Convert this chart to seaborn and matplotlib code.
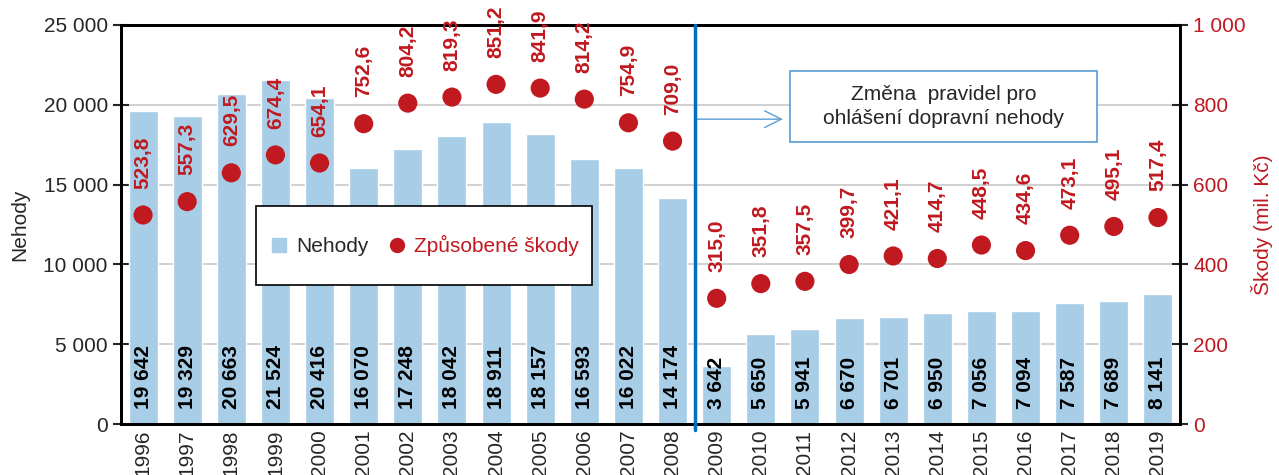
import numpy as np
import pandas as pd
import matplotlib
matplotlib.use("Agg")
import matplotlib.pyplot as plt
from matplotlib.ticker import FuncFormatter, FixedLocator
from matplotlib.lines import Line2D
from matplotlib.patches import Rectangle
import seaborn as sns

# Data
years = [str(y) for y in range(1996, 2020)]
nehody = [19642, 19329, 20663, 21524, 20416, 16070, 17248, 18042, 18911, 18157,
          16593, 16022, 14174, 3642, 5650, 5941, 6670, 6701, 6950, 7056,
          7094, 7587, 7689, 8141]
skody = [523.8, 557.3, 629.5, 674.4, 654.1, 752.6, 804.2, 819.3, 851.2, 841.9,
         814.2, 754.9, 709.0, 315.0, 351.8, 357.5, 399.7, 421.1, 414.7, 448.5,
         434.6, 473.1, 495.1, 517.4]

BAR_COLOR = "#A7CDE7"
RED = "#C0191F"
LINE_BLUE = "#0070C0"
BOX_BLUE = "#5B9BD5"

sns.set_style("white")
plt.rcParams["font.family"] = ["Liberation Sans", "DejaVu Sans"]
plt.rcParams["font.size"] = 15

df = pd.DataFrame({"rok": years, "nehody": nehody, "skody": skody})


def space_thousands(v, pos=None):
    return f"{int(round(v)):,}".replace(",", " ")


fig = plt.figure(figsize=(12.79, 4.75), dpi=100)
ax = fig.add_axes([121 / 1279, 51 / 475, 1059 / 1279, 399 / 475])

sns.barplot(data=df, x="rok", y="nehody", color=BAR_COLOR, width=0.66,
            saturation=1, ax=ax, zorder=2)
ax.set_xlim(-0.5, len(years) - 0.5)
ax.set_ylim(0, 25000)
ax.set_yticks(np.arange(0, 25001, 5000))
ax.yaxis.set_major_formatter(FuncFormatter(space_thousands))
ax.grid(axis="y", color="#C8C8C8", lw=1.2, zorder=0)
ax.set_axisbelow(True)
ax.set_xlabel("")
ax.set_ylabel("Nehody", fontsize=15, labelpad=10)
ax.tick_params(axis="x", which="major", length=0, labelrotation=90, pad=4,
               labelsize=15)
ax.xaxis.set_minor_locator(FixedLocator(np.arange(0.5, len(years) - 1, 1)))
ax.tick_params(axis="x", which="minor", direction="inout", length=12, width=1.5)
ax.tick_params(axis="y", direction="inout", length=12, width=1.5, labelsize=15)
for s in ax.spines.values():
    s.set_color("black")
    s.set_linewidth(2)

# bar value labels
for i, v in enumerate(nehody):
    ax.annotate(space_thousands(v), (i, 0), xytext=(0, 11), textcoords="offset points",
                rotation=90, ha="center", va="bottom", fontsize=15,
                fontweight="bold", color="black", zorder=5)

# second axis - damages
ax2 = ax.twinx()
sns.scatterplot(data=df, x="rok", y="skody", color=RED, s=190, edgecolor="none",
                ax=ax2, zorder=4, legend=False)
ax2.set_xlim(-0.5, len(years) - 0.5)
ax2.set_ylim(0, 1000)
ax2.set_yticks(np.arange(0, 1001, 200))
ax2.yaxis.set_major_formatter(FuncFormatter(space_thousands))
ax2.set_ylabel("Škody (mil. Kč)", color=RED, fontsize=15, labelpad=4)
ax2.tick_params(axis="y", direction="inout", length=12, width=1.5,
                labelsize=15, labelcolor=RED)
for s in ax2.spines.values():
    s.set_color("black")
    s.set_linewidth(2)

for i, v in enumerate(skody):
    ax2.annotate(f"{v:.1f}".replace(".", ","), (i, v), xytext=(0, 19),
                 textcoords="offset points", rotation=90, ha="center",
                 va="bottom", fontsize=15, fontweight="bold", color=RED,
                 annotation_clip=False, zorder=5)

# rule change marker
ax2.plot([12.5, 12.5], [-15, 1000], color=LINE_BLUE, lw=2.5, clip_on=False, zorder=6)
ax2.annotate("", xy=(14.5, 764), xytext=(12.55, 764),
             arrowprops=dict(arrowstyle="->", color=BOX_BLUE, lw=1,
                             mutation_scale=30, shrinkA=0, shrinkB=0))
ax2.add_patch(Rectangle((14.66, 706.8), 21.62 - 14.66, 884.7 - 706.8,
                        fc="white", ec=BOX_BLUE, lw=1.2, zorder=7))
ax2.text(18.14, 795.7, "Změna  pravidel pro\nohlášení dopravní nehody",
         ha="center", va="center", fontsize=15, linespacing=1.3, zorder=8)

# legend
ax2.add_patch(Rectangle((0.1275, 0.348), 0.317, 0.198, transform=ax2.transAxes,
                        fc="white", ec="black", lw=1.2, zorder=8))
handles = [
    Line2D([], [], marker="s", ls="none", color=BAR_COLOR, markersize=10),
    Line2D([], [], marker="o", ls="none", color=RED, markersize=10),
]
leg = ax2.legend(handles, ["Nehody", "Způsobené škody"], loc="center",
                 bbox_to_anchor=(0.286, 0.447), ncol=2, frameon=False,
                 fontsize=15, handletextpad=0.3, columnspacing=0.9,
                 handlelength=1.0)
leg.get_texts()[1].set_color(RED)
leg.set_zorder(9)

fig.savefig("out.png", dpi=100)
